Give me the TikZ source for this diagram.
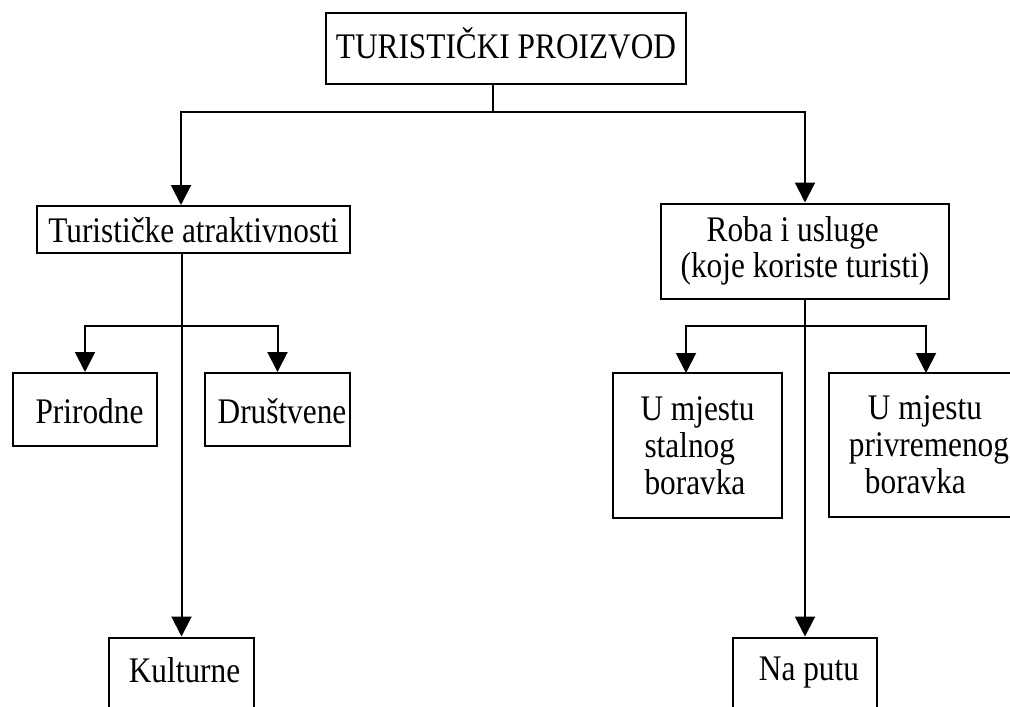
\documentclass[tikz,border=0pt]{standalone}
\usepackage{fontspec}
\setmainfont{Liberation Serif}[FakeStretch=0.87]
\usetikzlibrary{arrows.meta}
\begin{document}
\begin{tikzpicture}[x=1pt,y=-1pt,
  every node/.style={font=\fontsize{36pt}{37pt}\selectfont},
  box/.style={draw,line width=2pt,rectangle,inner sep=0pt},
  link/.style={line width=2pt},
  arr/.style={line width=2pt,-{Triangle[length=20pt,width=20pt]}}]
\useasboundingbox (0,0) rectangle (1010,707);
\clip (0,0) rectangle (1010,707);

% top level
\node[box,minimum width=360pt,minimum height=71pt,text height=19pt,text depth=0pt]
  (top) at (506,48.5) {TURISTIČKI PROIZVOD};

% second level
\node[box,minimum width=313pt,minimum height=47pt,text height=25pt,text depth=0pt]
  (att) at (193.5,229.5) {Turističke atraktivnosti};
\node[box,minimum width=288pt,minimum height=95pt,align=left,
  font=\fontsize{36pt}{35.5pt}\selectfont]
  (roba) at (805,251) {\hspace*{26pt}Roba i usluge\\(koje koriste turisti)};

% attractions
\node[box,minimum width=144pt,minimum height=73pt,text height=27pt,text depth=0pt]
  (prir) at (85,409.5) {\hspace*{9pt}Prirodne};
\node[box,minimum width=145pt,minimum height=73pt,text height=27pt,text depth=0pt]
  (drus) at (277.5,409.5) {\hspace*{9pt}Društvene};
\node[box,minimum width=145pt,minimum height=73pt,text height=16pt,text depth=0pt]
  (kult) at (181.5,674) {\hspace*{6pt}Kulturne};

% goods and services
\node[box,minimum width=169pt,minimum height=145pt,align=left]
  (stal) at (697.5,445.5) {U mjestu\\\hspace*{4pt}stalnog\\\hspace*{4pt}boravka};
\node[box,minimum width=200pt,minimum height=144pt,align=left]
  (priv) at (929,445) {\hspace*{19pt}U mjestu\\privremenog\\\hspace*{16pt}boravka};
\node[box,minimum width=144pt,minimum height=73pt,text height=12pt,text depth=0pt]
  (put) at (805,674) {\hspace*{8pt}Na putu};

% junction points
\coordinate (j0) at (493,112);
\coordinate (jL) at (181,112);
\coordinate (bL) at (181,326);
\coordinate (bR) at (806,326);
\coordinate (aS) at (686,373);
\coordinate (aP) at (926,373);

% connectors
\draw[link] (top.south -| j0) -- (j0);
\draw[arr] (j0) -| (att.north -| jL);
\draw[arr] (j0) -| (roba.north);

\draw[arr] (att.south -| kult.north) -- (kult.north);
\draw[arr] (bL) -| (prir.north);
\draw[arr] (bL) -| (drus.north);

\draw[arr] (roba.south) -- (put.north);
\draw[arr] (bR) -| (aS);
\draw[arr] (bR) -| (aP);
\end{tikzpicture}
\end{document}
